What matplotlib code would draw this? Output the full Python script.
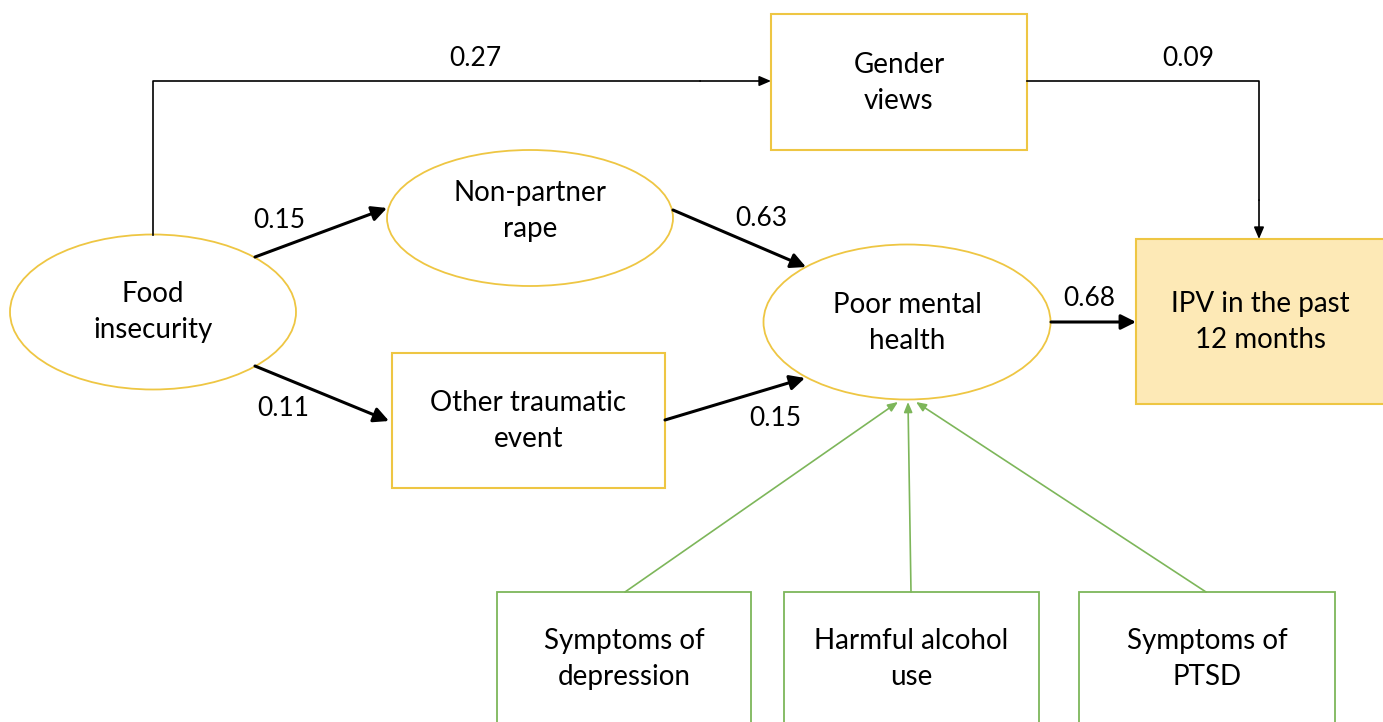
import matplotlib.pyplot as plt
from matplotlib.patches import Ellipse, Rectangle

# Path coefficients
coef_food_gender = "0.27"
coef_gender_ipv = "0.09"
coef_food_rape = "0.15"
coef_food_trauma = "0.11"
coef_rape_mental = "0.63"
coef_trauma_mental = "0.15"
coef_mental_ipv = "0.68"

# Node labels
latent_labels = ["Food\ninsecurity", "Non-partner\nrape", "Poor mental\nhealth"]
observed_labels = ["Gender\nviews", "Other traumatic\nevent", "IPV in the past\n12 months"]
indicator_labels = ["Symptoms of\ndepression", "Harmful alcohol\nuse", "Symptoms of\nPTSD"]

GOLD = "#EEC643"
GREEN = "#7DB65A"
FILL = "#FDE9B6"
FS = 20
LS = 1.5
plt.rcParams['font.family'] = ['Lato', 'DejaVu Sans']

fig = plt.figure(figsize=(13.83, 7.22), dpi=100)
ax = fig.add_axes([0, 0, 1, 1])
ax.set_xlim(0, 1383)
ax.set_ylim(722, 0)
ax.axis('off')

# ellipses: (cx, cy, w, h), text centre y
ell_pos = [(153, 312, 286, 155, 312), (530, 218, 286, 136, 211), (907, 322, 287, 155, 323)]
for (cx, cy, w, h, ty), lab in zip(ell_pos, latent_labels):
    ax.add_patch(Ellipse((cx, cy), w, h, fc='white', ec=GOLD, lw=1.3))
    ax.text(cx, ty, lab, ha='center', va='center', fontsize=FS, linespacing=LS)

# boxes: (x0, y0, x1, y1)
box_pos = [(771, 14, 1027, 150), (392, 353, 665, 488), (1136, 239, 1385, 404)]
box_fill = ['white', 'white', FILL]
box_ty = [83, 421, 322]
for (x0, y0, x1, y1), lab, fc, ty in zip(box_pos, observed_labels, box_fill, box_ty):
    ax.add_patch(Rectangle((x0, y0), x1 - x0, y1 - y0, fc=fc, ec=GOLD, lw=1.5))
    ax.text((x0 + x1) / 2, ty, lab, ha='center', va='center',
            fontsize=FS, linespacing=LS)

ind_pos = [(497, 592, 751, 730), (784, 592, 1039, 730), (1079, 592, 1335, 730)]
for (x0, y0, x1, y1), lab in zip(ind_pos, indicator_labels):
    ax.add_patch(Rectangle((x0, y0), x1 - x0, y1 - y0, fc='white', ec=GREEN, lw=1.3))
    ax.text((x0 + x1) / 2, 659, lab, ha='center', va='center', fontsize=FS, linespacing=LS)


def arrow(p0, p1, color='black', lw=2.2, hw=0.45, hl=0.9):
    ax.annotate('', xy=p1, xytext=p0,
                arrowprops=dict(arrowstyle=f'-|>,head_width={hw},head_length={hl}',
                                color=color, lw=lw, shrinkA=0, shrinkB=0))


# elbow path food -> gender
ax.plot([153, 153, 700], [235, 81, 81], color='black', lw=1.2)
arrow((700, 81), (771, 81), lw=1.2, hw=0.3, hl=0.7)
# elbow path gender -> ipv
ax.plot([1027, 1259, 1259], [81, 81, 200], color='black', lw=1.2)
arrow((1259, 200), (1259, 239), lw=1.2, hw=0.3, hl=0.7)

arrow((255, 257), (387, 208))
arrow((255, 366), (389, 421))
arrow((673, 210), (806, 267))
arrow((665, 420), (805, 378))
arrow((1051, 322), (1136, 322))

# indicator arrows
arrow((625, 592), (898, 402), color=GREEN, lw=1.2, hw=0.25, hl=0.6)
arrow((911, 592), (908, 402), color=GREEN, lw=1.2, hw=0.25, hl=0.6)
arrow((1206, 592), (916, 402), color=GREEN, lw=1.2, hw=0.25, hl=0.6)

lab_kw = dict(ha='center', va='center', fontsize=FS - 1)
ax.text(475, 59, coef_food_gender, **lab_kw)
ax.text(1188, 59, coef_gender_ipv, **lab_kw)
ax.text(279, 221, coef_food_rape, **lab_kw)
ax.text(283, 409, coef_food_trauma, **lab_kw)
ax.text(761, 219, coef_rape_mental, **lab_kw)
ax.text(775, 418, coef_trauma_mental, **lab_kw)
ax.text(1089, 298, coef_mental_ipv, **lab_kw)

fig.savefig('out.png', dpi=100)
